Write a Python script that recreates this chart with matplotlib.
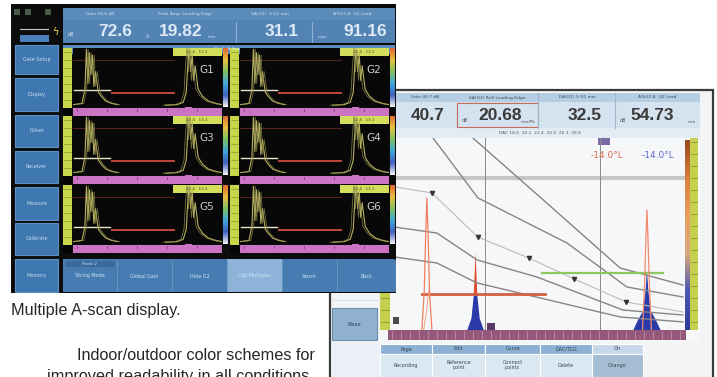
import numpy as np
import matplotlib.pyplot as plt
from matplotlib.patches import Rectangle
from matplotlib.colors import LinearSegmentedColormap

W, H = 717, 377

# ---- values ----
left_readings = ['72.6', '19.82', '31.1', '91.16']
left_reading_x = [115, 181, 282, 365]
left_top_labels = ['Gain 18.6 dB', 'Peak Amp  Leading Edge', 'SA(G1)  S G1 mm', 'A%G1-B  G2 Lead']
right_readings = ['40.7', '20.68', '32.5', '54.73']
right_reading_x = [428, 500, 585, 652]
right_top_labels = ['Gain 40.7 dB', 'SA(G1) Refl Leading Edge', 'DA(G1) S G1 mm', 'A%G1-B  G2 Lead']
panel_labels = ['G1', 'G2', 'G3', 'G4', 'G5', 'G6']
nav_labels = ['Gate Setup', 'Display', 'Pulser', 'Receiver', 'Measure', 'Calibrate', 'Memory']
bottom_buttons = ['String Mode', 'Global Gain', 'Hide G2', 'Clip Multiples', 'Alarm', 'Back']
table_head = ['Page', 'Edit', 'Curve', 'DAC/TCG', 'On']
table_buttons = ['Recording', 'Reference\npoint', 'Connect\npoints', 'Delete', 'Change']

# small A-scans (x: % screen width, y: % amplitude)
pulse_x = [0, 6, 8, 9, 10, 11, 12, 13, 14, 15, 17, 19, 22, 26, 30]
pulse_y = [4, 6, 30, 98, 40, 92, 55, 88, 35, 60, 25, 18, 10, 6, 4]
echo_x = [62, 70, 74, 76, 77, 78, 79, 80, 81, 82, 84, 87, 91, 96, 100]
echo_y = [3, 4, 8, 25, 70, 100, 60, 90, 45, 70, 30, 18, 10, 6, 4]
gate1_x, gate1_y = [1, 25], 29
gate2_x, gate2_y = [26, 68], 23
upper_x, upper_y = [0, 68], 80

# big A-scan curves
dac_curves = [
    ([28.1, 50.8, 78.0, 99.3], [100, 69.3, 32.3, 23.4]),
    ([14.6, 29.8, 60.0, 80.3, 99.3], [100, 68.8, 45.3, 22.4, 17.2]),
    ([1.7, 15.9, 29.5, 49.8, 79.0, 99.3], [53.6, 50.5, 36.5, 27.6, 10.4, 7.8]),
    ([1.7, 15.9, 29.5, 78.0, 99.3], [38.0, 34.9, 24.5, 6.8, 4.2]),
]
ref_x = [1.7, 14.2, 29.8, 47.1, 62.4, 80.0, 99.3]
ref_y = [74.5, 71.4, 48.4, 37.5, 26.6, 14.6, 9.4]
dac_pts_x = [14.2, 29.8, 47.1, 62.4, 80.0]
dac_pts_y = [71.4, 48.4, 37.5, 26.6, 14.6]
echo1_x = [10.8, 11.6, 12.1, 12.5, 12.9, 13.4, 14.2]
echo1_y = [0, 20, 50, 68.8, 50, 20, 0]
echo2_x = [26.2, 27.6, 28.4, 29.0, 29.6, 30.4, 31.8]
echo2_y = [0, 6, 18, 40.6, 18, 6, 0]
echo3_x = [82.5, 84.0, 85.8, 86.6, 87.1, 87.6, 88.4, 90.2, 91.7]
echo3_y = [0, 5, 10, 20, 31.2, 20, 10, 5, 0]
echo3o_x = [85.6, 86.3, 86.8, 87.1, 87.4, 87.9, 88.6]
echo3o_y = [0, 25, 50, 62.5, 50, 25, 0]
red_gate_x, red_gate_y = [10.8, 52.5], 18.75
green_gate_x, green_gate_y = [51.5, 92.5], 29.7
cursor_x = [32.2, 71.2]
ref_line_y = 79.2


def px_axes(x0, y0, x1, y1, **kw):
    return fig.add_axes([x0 / W, 1 - y1 / H, (x1 - x0) / W, (y1 - y0) / H], **kw)


def rect(ax, x0, y0, x1, y1, fc, ec='none', lw=0, **kw):
    ax.add_patch(Rectangle((x0, y0), x1 - x0, y1 - y0, fc=fc, ec=ec, lw=lw, **kw))


def gradient(ax, colors):
    cmap = LinearSegmentedColormap.from_list('g', colors)
    ax.imshow(np.linspace(0, 1, 64).reshape(-1, 1), cmap=cmap, aspect='auto')
    ax.axis('off')


fig = plt.figure(figsize=(W / 100, H / 100), dpi=100)
fig.patch.set_facecolor('white')

# ---------------- right-hand screen (drawn first, sits behind) ----------------
axR = px_axes(0, 0, W, H)
axR.set_xlim(0, W)
axR.set_ylim(H, 0)
axR.axis('off')

rect(axR, 330, 90, 713, 380, '#f3f4f5', ec='#3a3a3a', lw=1.6)
rect(axR, 393, 93, 700, 102, '#b6cee3')
rect(axR, 393, 102, 700, 128, '#d4e3ef')
rect(axR, 393, 128, 700, 138, '#e3ecf3')
for xd in [538, 615]:
    axR.plot([xd, xd], [93, 128], color='#9fb8cc', lw=0.8)
rect(axR, 457, 103, 538, 127, 'none', ec='#c46a5a', lw=0.8)
for s, x in zip(right_readings, right_reading_x):
    axR.text(x, 116, s, ha='center', va='center', fontsize=12.5, color='#3a3a3a',
             fontweight='bold', family='Liberation Sans')
for s, x in zip(right_top_labels, [425, 497, 577, 657]):
    axR.text(x, 97.5, s, ha='center', va='center', fontsize=3.2, color='#3a4a5a')
axR.text(465, 120, 'dB', fontsize=3.5, color='#555', ha='center', va='center')
axR.text(528, 122, 'mm/Pk', fontsize=3.2, color='#555', ha='center', va='center')
axR.text(623, 121, 'dB', fontsize=3.5, color='#555', ha='center', va='center')
axR.text(692, 122, 'mm', fontsize=3.2, color='#555', ha='center', va='center')
axR.text(540, 133, 'DAC 18.6  20.1  22.4  24.0  26.3  28.8', fontsize=3.2, color='#56606a',
         ha='center', va='center')

rect(axR, 380, 138, 700, 342, '#f6f7f8')
rect(axR, 380, 138, 390, 330, '#c7d04c')
for yy in range(142, 330, 12):
    axR.plot([381, 389], [yy, yy], color='#8c9a30', lw=0.6)
rect(axR, 690, 138, 698, 330, '#c7d04c')
for yy in range(142, 330, 12):
    axR.plot([691, 697], [yy, yy], color='#8c9a30', lw=0.6)

# baseline bar
rect(axR, 388, 330, 686, 340, '#94587a')
for xx in range(392, 686, 9):
    axR.plot([xx, xx], [331, 339], color='#c08aa6', lw=0.6)

# Pass button and soft-key table
axR.plot([331, 380], [300, 300], color='#d6e2ec', lw=0.8)
rect(axR, 332, 308, 377, 340, '#8fb0cf', ec='#6c8fb0', lw=0.8)
axR.text(354.5, 324, 'Pass', fontsize=4.5, color='#2c3e50', ha='center', va='center')
rect(axR, 331, 343, 380, 377, '#eaf0f5')
col_edges = [380, 432, 485, 540, 592, 643]
for i in range(5):
    x0, x1 = col_edges[i], col_edges[i + 1]
    rect(axR, x0, 344, x1, 354, '#c7d9e9' if i == 4 else '#8db1d3', ec='white', lw=0.8)
    rect(axR, x0, 354, x1, 377, '#a5bdd2' if i == 4 else '#dbe7f1', ec='white', lw=0.8)
    axR.text((x0 + x1) / 2, 349, table_head[i], fontsize=3.5, color='#2c3e50', ha='center', va='center')
    axR.text((x0 + x1) / 2, 365.5, table_buttons[i], fontsize=3.5, color='#3a4a5a',
             ha='center', va='center', linespacing=1.0)

# colour bar at the right edge of the big A-scan
gradient(px_axes(685, 140, 690, 330),
         ['#9a4a22', '#d9803c', '#e8a060', '#d8a880', '#4a58b0', '#2c3a9c'])

# big A-scan
axS = px_axes(390, 138, 685, 330)
axS.set_xlim(0, 100)
axS.set_ylim(0, 100)
axS.axis('off')
axS.axhline(ref_line_y, color='#c6c6c6', lw=3)
for cx in cursor_x:
    axS.axvline(cx, color='#8a8a8a', lw=0.7)
axS.plot(ref_x, ref_y, color='#bcbcbc', lw=0.8)
for cxs, cys in dac_curves:
    axS.plot(cxs, cys, color='#858585', lw=1.0)
axS.plot(dac_pts_x, dac_pts_y, 'v', color='#333', ms=3)
axS.plot(red_gate_x, [red_gate_y] * 2, color='#d06040', lw=2)
axS.plot(green_gate_x, [green_gate_y] * 2, color='#8cc860', lw=1.6)
axS.plot(echo1_x, echo1_y, color='#f08060', lw=0.9)
axS.plot([e + 0.6 for e in echo1_x[:4]], [0, 8, 14, 20], color='#f0a080', lw=0.7)
red = axS.fill(echo2_x, echo2_y, color='#e04a28', lw=0)[0]
red.set_clip_path(Rectangle((0, red_gate_y), 100, 100, transform=axS.transData))
blue = axS.fill(echo2_x, echo2_y, color='#2a3aa8', lw=0)[0]
blue.set_clip_path(Rectangle((0, 0), 100, red_gate_y, transform=axS.transData))
axS.plot(echo3o_x, echo3o_y, color='#f08a70', lw=0.9)
axS.fill(echo3_x, echo3_y, color='#2a3aa8', lw=0)
axS.add_patch(Rectangle((32.9, 0), 2.7, 3.6, fc='#5a3a6a'))
axS.add_patch(Rectangle((1.0, 3), 2.2, 4, fc='#4a4a4a'))
axS.add_patch(Rectangle((70.5, 96.2), 4.1, 3.8, fc='#7a6aa8'))
axS.text(73.6, 91, '-14.0\u00b0L', color='#e06848', fontsize=6.5, ha='center', va='center')
axS.text(90.8, 91, '-14.0\u00b0L', color='#5a68c8', fontsize=6.5, ha='center', va='center')

# ---------------- left-hand screen (on top) ----------------
axL = px_axes(0, 0, W, H)
axL.set_xlim(0, W)
axL.set_ylim(H, 0)
axL.axis('off')
axL.patch.set_alpha(0)

rect(axL, 11, 4, 396, 293, '#0c0c0c')
# top-left icons
for ix in [17, 28, 48]:
    axL.add_patch(Rectangle((ix - 3, 9), 6, 6, fc='#4a5a4a'))
axL.text(55, 32, '\u03df', color='#e8d040', fontsize=7, ha='center', va='center')
axL.plot([20, 48], [29, 29], color='#c0c8d0', lw=0.8)
rect(axL, 20, 35, 49, 42, '#4a7fb8')

# header
rect(axL, 63, 8, 395, 43, '#5383b2')
rect(axL, 63, 8, 395, 20, '#5b8bb9')
for s, x in zip(left_top_labels, [100, 185, 270, 352]):
    axL.text(x, 14, s, ha='center', va='center', fontsize=3.2, color='#cfe0f0')
for xd in [236, 312]:
    axL.plot([xd, xd], [22, 42], color='#8fb2d4', lw=0.8)
for s, x in zip(left_readings, left_reading_x):
    axL.text(x, 32, s, ha='center', va='center', fontsize=12.5, color='#dce9f7',
             fontweight='bold', family='Liberation Sans')
axL.text(71, 35, 'dB', fontsize=3.5, color='#cfe0f0', ha='center', va='center')
axL.text(148, 36, 'A', fontsize=3.5, color='#cfe0f0', ha='center', va='center')
axL.text(212, 37, 'mm', fontsize=3.2, color='#cfe0f0', ha='center', va='center')
axL.text(322, 37, 'max', fontsize=3.2, color='#cfe0f0', ha='center', va='center')
rect(axL, 63, 45, 395, 54, '#5b8cbc')
axL.text(229, 49.5, 'Multi A-Scan', fontsize=3.2, color='#d8e6f4', ha='center', va='center')

# left navigation keys
nav_rows = [(45, 74), (78, 111), (115, 147), (151, 183), (187, 220), (223, 255), (259, 292)]
for (y0, y1), lab in zip(nav_rows, nav_labels):
    rect(axL, 15, y0, 58, y1, '#3f77b0', ec='#5e90c2', lw=0.8)
    axL.text(36.5, (y0 + y1) / 2, lab, fontsize=3.5, color='#c8dcef', ha='center', va='center')

# bottom soft keys
rect(axL, 63, 259, 395, 292, '#467cb2')
key_edges = [63, 117, 172, 227, 282, 337, 395]
for i, lab in enumerate(bottom_buttons):
    x0, x1 = key_edges[i], key_edges[i + 1]
    if i == 3:
        rect(axL, x0, 259, x1, 292, '#8db3d8')
    axL.plot([x1, x1], [260, 291], color='#6a98c6', lw=0.6)
    axL.text((x0 + x1) / 2, 276, lab, fontsize=3.5, color='#d4e4f3', ha='center', va='center')
rect(axL, 66, 261, 115, 267, '#3a6a9c')
axL.text(90, 264, 'Mode 2', fontsize=3, color='#c8dcef', ha='center', va='center')

# six A-scan tiles
col_x0 = [63, 230]
row_y0 = [48, 116, 185]
tile_h = 68
rb_colors = ['#e06a30', '#e8c040', '#80c060', '#40a8d8', '#4060c0', '#f4f4f4']
for k, lab in enumerate(panel_labels):
    x0 = col_x0[k % 2]
    y0 = row_y0[k // 2]
    y1 = y0 + tile_h
    rect(axL, x0, y0, x0 + 9, y1 - 8, '#c8d64a')
    for yy in range(y0 + 4, y1 - 8, 8):
        axL.plot([x0 + 1, x0 + 8], [yy, yy], color='#8a9a2a', lw=0.5)
    rect(axL, x0, y1 - 8, x0 + 9, y1, '#050505')
    rect(axL, x0 + 10, y1 - 8, x0 + 159, y1, '#cc74c4')
    for xx in range(x0 + 14, x0 + 159, 30):
        axL.plot([xx, xx], [y1 - 7, y1 - 5], color='#8a3a8a', lw=0.6)
    rect(axL, x0 + 122, y1 - 14, x0 + 129, y1 - 8, '#cc74c4')
    rect(axL, x0 + 10, y0 + 1, x0 + 22, y0 + 7, '#cc74c4')

    axT = px_axes(x0 + 10, y0, x0 + 159, y1 - 9)
    axT.set_facecolor('#080808')
    axT.set_xlim(0, 100)
    axT.set_ylim(0, 100)
    axT.set_xticks([])
    axT.set_yticks([])
    for sp in axT.spines.values():
        sp.set_visible(False)
    axT.plot(upper_x, [upper_y] * 2, color='#5a2020', lw=0.8)
    axT.plot(gate1_x, [gate1_y] * 2, color='#e8e4c8', lw=1.0)
    axT.plot(gate2_x, [gate2_y] * 2, color='#c04a3a', lw=1.4)
    axT.plot(pulse_x, pulse_y, color='#b8b060', lw=0.8)
    axT.plot([p + 1.2 for p in pulse_x], pulse_y, color='#8a8a4a', lw=0.6, alpha=0.8)
    axT.plot(echo_x, echo_y, color='#b8b060', lw=0.8)
    axT.plot([e - 1.5 for e in echo_x], echo_y, color='#8a8a4a', lw=0.6, alpha=0.8)
    axT.add_patch(Rectangle((67, 86), 33, 14, fc='#d4de5a'))
    axT.text(83, 93, '12.4   13.1', fontsize=3, color='#4a4a20', ha='center', va='center')
    axT.text(90, 62, lab, fontsize=7.5, color='#cfcfcf', ha='center', va='center')

    gradient(px_axes(x0 + 160, y0, x0 + 165, y1 - 9), rb_colors)

# captions on the page
cap_font = ['Liberation Sans', 'DejaVu Sans']
axL.text(11, 311, 'Multiple A-scan display.', fontsize=11.7, color='#262626',
         ha='left', va='center', family=cap_font)
axL.text(315, 355, 'Indoor/outdoor color schemes for', fontsize=11.7, color='#262626',
         ha='right', va='center', family=cap_font)
axL.text(180, 376, 'improved readability in all conditions.', fontsize=11.7, color='#262626',
         ha='center', va='center', family=cap_font, clip_on=True)

fig.savefig('out.png', dpi=100)
